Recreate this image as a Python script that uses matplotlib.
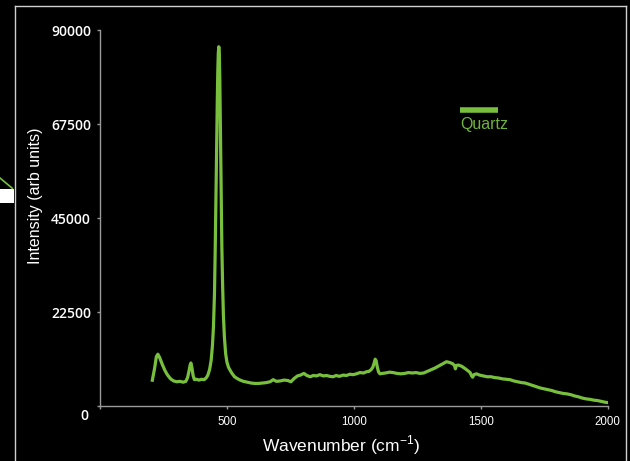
import matplotlib
matplotlib.use("Agg")
import matplotlib.pyplot as plt
from matplotlib.lines import Line2D
from matplotlib.patches import Rectangle

# ---- data ----
wavenumber = [205, 215, 222, 228, 235, 245, 255, 265, 278, 290, 302, 315, 328, 338, 345, 350, 355, 358, 362, 367,
              372, 380, 390, 400, 410, 418, 425, 432, 438, 443, 447, 451, 454, 457, 460, 462, 464, 466, 468, 470,
              472, 474, 476, 478, 480, 483, 486, 490, 495, 500, 506, 512, 520, 530, 540, 552, 565, 580, 595, 610,
              625, 640, 655, 670, 682, 695, 710, 725, 740, 752, 765, 778, 790, 803, 815, 828, 840, 853, 866, 880,
              893, 905, 918, 930, 943, 958, 970, 985, 997, 1010, 1024, 1038, 1050, 1060, 1068, 1075, 1080, 1084, 1088, 1092,
              1097, 1103, 1112, 1125, 1140, 1155, 1170, 1185, 1200, 1215, 1230, 1245, 1260, 1275, 1290, 1305, 1320, 1335, 1350, 1365,
              1378, 1390, 1397, 1400, 1404, 1412, 1425, 1437, 1448, 1458, 1464, 1468, 1473, 1483, 1495, 1510, 1525, 1540, 1555, 1570,
              1585, 1600, 1615, 1630, 1645, 1660, 1675, 1690, 1705, 1720, 1735, 1750, 1765, 1780, 1795, 1810, 1825, 1840, 1855, 1870,
              1885, 1900, 1915, 1930, 1945, 1960, 1975, 1990, 2002]
intensity = [5800, 9000, 11800, 12400, 11600, 10000, 8600, 7500, 6500, 6000, 5800, 5900, 5700, 5900, 6800, 8200, 9800, 10300, 9200, 7200,
             6300, 6400, 6200, 6400, 6300, 6700, 7400, 8800, 11000, 14500, 19000, 27000, 38000, 52000, 64000, 73000, 80000, 84500, 86000, 84500,
             78000, 68000, 58000, 47000, 38000, 29000, 22000, 16500, 12500, 10500, 9300, 8600, 7800, 7000, 6600, 6200, 5900, 5700, 5500, 5400,
             5400, 5500, 5600, 5800, 6300, 5900, 6000, 6200, 6100, 5800, 6600, 7200, 7400, 7800, 7300, 7000, 7300, 7200, 7500, 7200,
             7300, 7100, 7000, 7300, 7100, 7400, 7300, 7600, 7500, 7700, 8000, 7900, 8200, 8300, 8700, 9300, 10300, 11200, 10800, 9400,
             8200, 7700, 7800, 7900, 8100, 8000, 7800, 7700, 7800, 8000, 7900, 8000, 7800, 7900, 8300, 8700, 9100, 9600, 10100, 10600,
             10400, 10100, 9600, 8900, 9700, 9800, 9500, 9000, 8500, 8000, 7200, 6900, 7500, 7700, 7400, 7200, 7000, 7000, 6800, 6700,
             6500, 6400, 6300, 6000, 5800, 5600, 5500, 5200, 4900, 4600, 4300, 4100, 3900, 3700, 3400, 3200, 3000, 2900, 2700, 2400,
             2200, 1900, 1700, 1600, 1400, 1300, 1100, 900, 800]
series_name = "Quartz"
x_ticks = [0, 500, 1000, 1500, 2000]
x_tick_labels = ["", "500", "1000", "1500", "2000"]
y_ticks = [0, 22500, 45000, 67500, 90000]
y_tick_labels = ["", "22500", "45000", "67500", "90000"]
zero_label = "0"

assert len(wavenumber) == len(intensity)

GREEN = "#78BF3D"
W, H = 630, 461

fig = plt.figure(figsize=(6.3, 4.61), dpi=100, facecolor="black")
ax = fig.add_axes([100 / W, 1 - 406 / H, (607.7 - 100) / W, (406 - 30) / H])
ax.set_facecolor("black")

ax.plot(wavenumber, intensity, color=GREEN, lw=2.3, solid_joinstyle="round", solid_capstyle="butt")

ax.set_xlim(0, 2000)
ax.set_ylim(0, 90000)
ax.set_xticks(x_ticks)
ax.set_xticklabels(x_tick_labels, family="Liberation Sans", fontsize=8.3, color="white")
ax.set_yticks(y_ticks)
ax.set_yticklabels(y_tick_labels, family="Open Sans", fontweight="semibold", fontsize=10, color="white")
ax.tick_params(axis="both", colors="#9a9a9a", length=2.5, width=1, direction="out")
ax.tick_params(axis="x", labelcolor="white", pad=4.5)
ax.tick_params(axis="y", labelcolor="white", pad=4)
for s in ["top", "right"]:
    ax.spines[s].set_visible(False)
for s in ["left", "bottom"]:
    ax.spines[s].set_color("#9a9a9a")
    ax.spines[s].set_linewidth(1)

# "0" label sits below-left of the origin
fig.text(84 / W, 1 - 415.5 / H, zero_label, family="Open Sans", fontweight="semibold", fontsize=10,
         color="white", ha="center", va="center")

ax.set_xlabel("Wavenumber (cm$^{\\mathregular{-1}}$)", family="Liberation Sans", fontsize=12.5, color="white")
ax.xaxis.set_label_coords((341 - 100) / 508, -(433.5 - 406) / 376)
ax.set_ylabel("Intensity (arb units)", family="Liberation Sans", fontsize=11.5, color="white")
ax.yaxis.set_label_coords(-(100 - 43) / 508, 0.558)

# legend-like annotation
fig.add_artist(Line2D([460 / W, 498 / W], [1 - 110 / H, 1 - 110 / H], color=GREEN, lw=4, solid_capstyle="butt"))
fig.text(460 / W, 1 - 124 / H, series_name, family="Liberation Sans", fontsize=11.5, color="#6EB43C",
         ha="left", va="center")

# outer frame
fc = "#d0d0d0"
fig.add_artist(Line2D([14.5 / W, 625.7 / W], [1 - 6.5 / H, 1 - 6.5 / H], color=fc, lw=1))
fig.add_artist(Line2D([14.5 / W, 14.5 / W], [0, 1 - 6.5 / H], color=fc, lw=1))
fig.add_artist(Line2D([625.7 / W, 625.7 / W], [0, 1 - 6.5 / H], color=fc, lw=1))

# cropped decoration at far left
fig.add_artist(Line2D([0, 12.3 / W], [1 - 178 / H, 1 - 188.3 / H], color=GREEN, lw=1.2))
fig.add_artist(Rectangle((0, 1 - 203.3 / H), 14.3 / W, 14 / H, transform=fig.transFigure,
                         facecolor="white", edgecolor="none"))

fig.savefig("out.png", dpi=100, facecolor="black")
